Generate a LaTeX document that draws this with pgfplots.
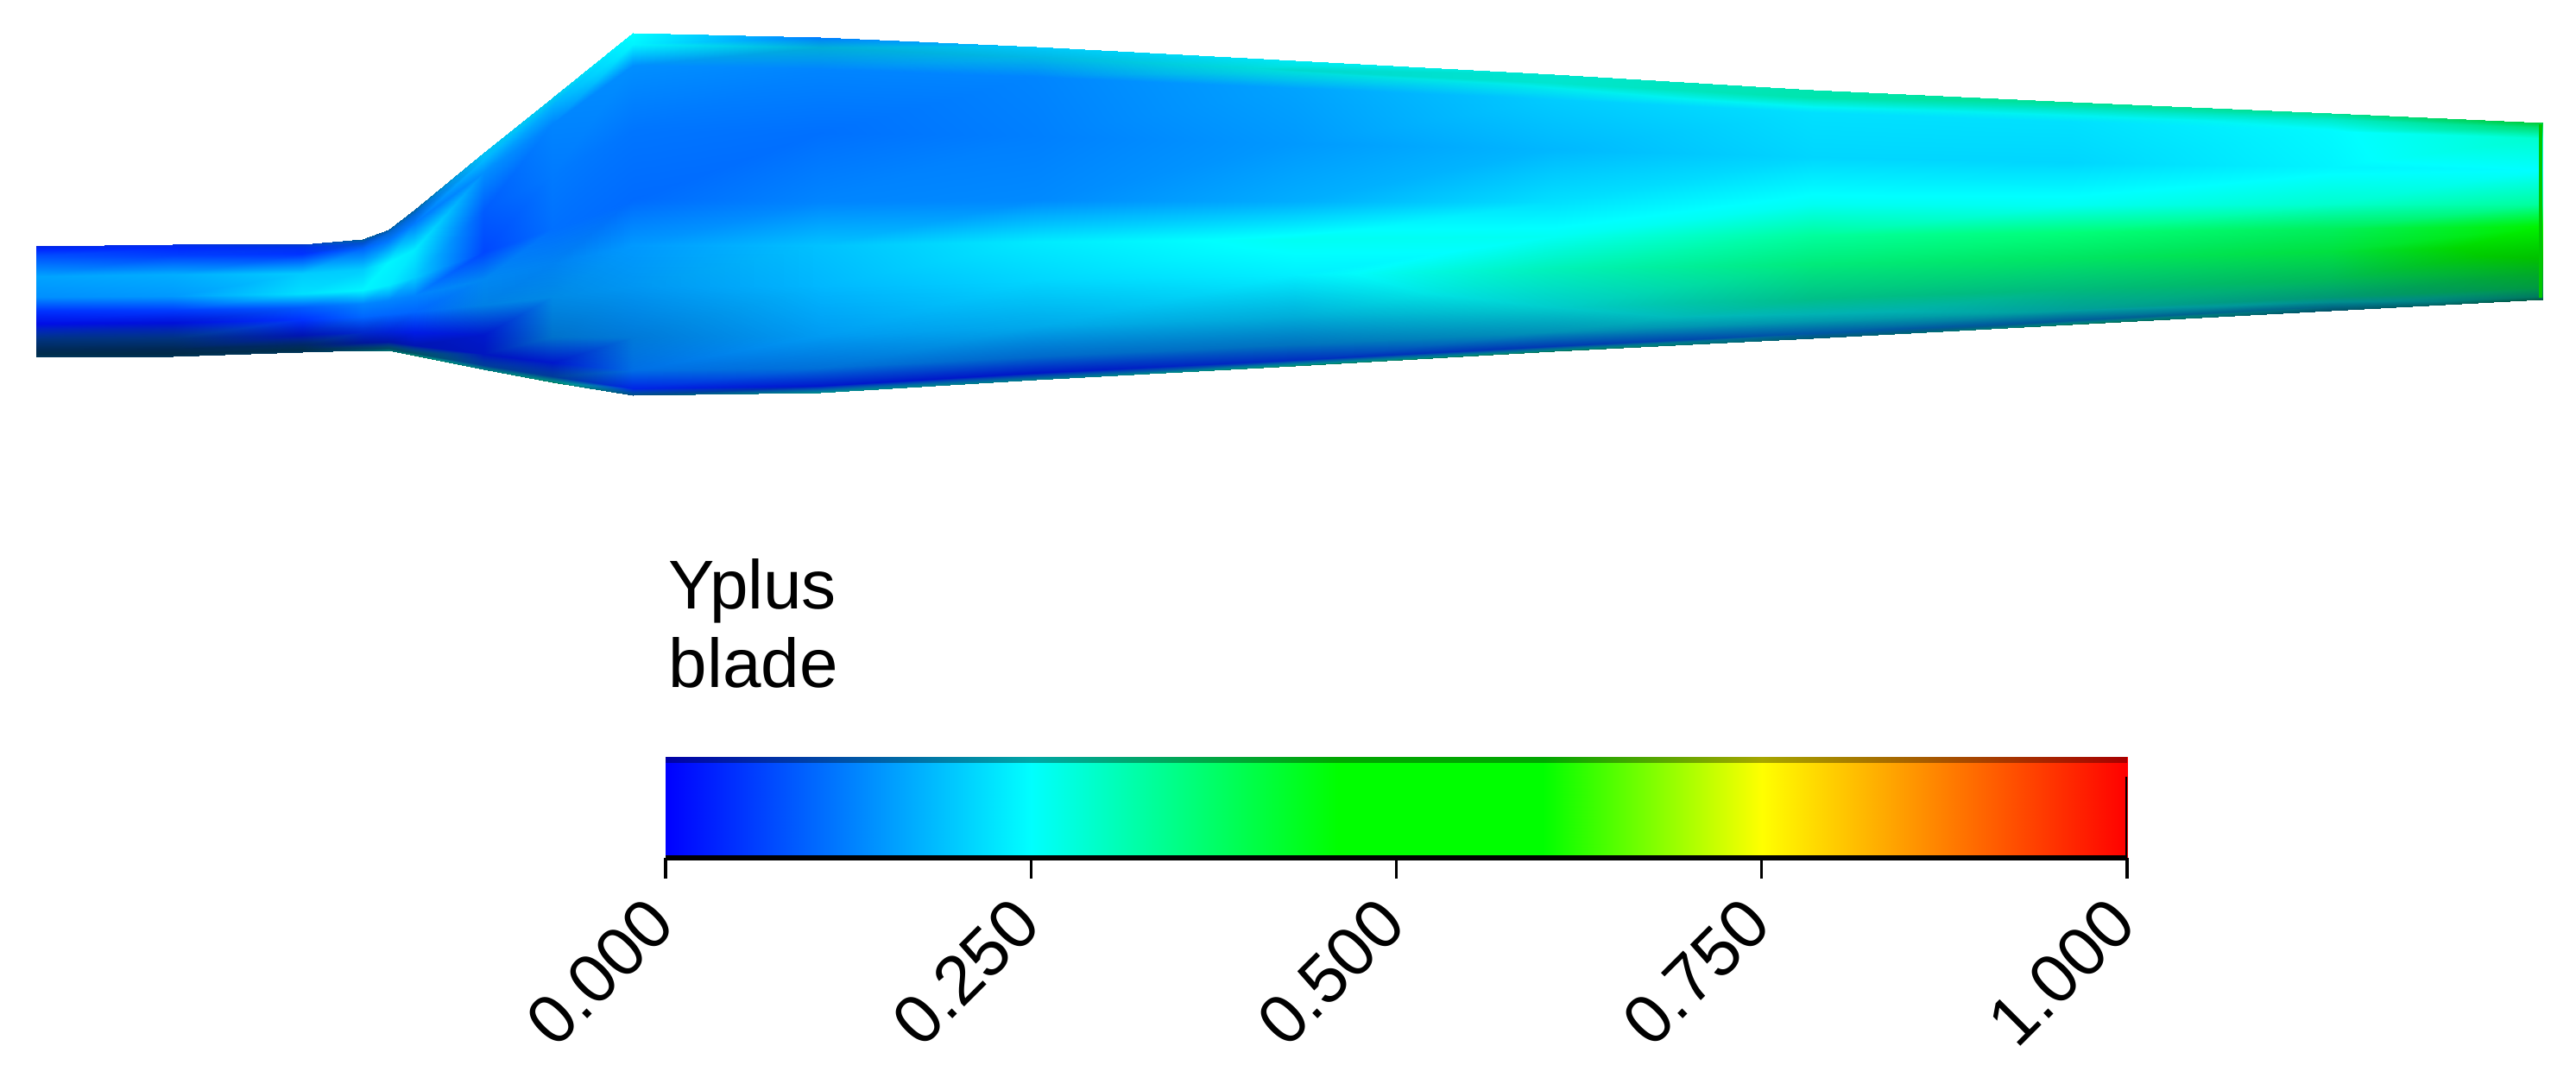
\documentclass[border=0pt]{standalone}
\usepackage{pgfplots}
\usepackage{pgfplotstable}
\usepackage{fontspec}
\setmainfont{Liberation Sans}
\pgfplotsset{compat=1.18}
\pgfplotstableread{
x y v L
42 285 .04 .9
42 289 .04 1
42 297 .08 1
42 320 .16 1
42 344 .14 1
42 360 .05 1
42 375 .015 .9
42 393 .1 .5
42 404 .12 .35
42 410 .15 .3
42 413 .15 .35
200 283 .05 .9
200 287 .04 1
200 295 .06 1
200 318 .17 1
200 343 .15 1
200 359 .06 1
200 374 .02 .85
200 392 .1 .5
200 404 .12 .33
200 410 .15 .28
200 413 .15 .35
350 283 .07 .8
350 287 .05 .95
350 294 .05 1
350 317 .2 1
350 340 .22 1
350 356 .09 1
350 370 .05 1
350 388 .03 .7
350 399 .1 .4
350 405 .15 .3
350 408 .15 .35
420 277 .15 .6
420 281 .1 .8
420 288 .1 1
420 312 .2 1
420 336 .24 1
420 352 .13 1
420 367 .1 1
420 385 .05 .8
420 397 .04 .6
420 403 .15 .4
420 406 .2 .4
450 266 .14 .65
450 270 .12 .85
450 279 .12 1
450 304 .24 1
450 330 .23 1
450 348 .13 1
450 364 .1 1
450 384 .04 .85
450 396 .035 .65
450 403 .18 .4
450 406 .25 .45
480 243 .15 .65
480 248 .12 .85
480 258 .12 1
480 289 .23 1
480 321 .2 1
480 342 .13 1
480 361 .1 1
480 385 .03 .9
480 400 .03 .7
480 409 .2 .4
480 412 .3 .5
560 177 .2 .95
560 185 .18 1
560 200 .14 1
560 245 .09 1
560 292 .07 1
560 324 .14 .95
560 353 .14 .9
560 388 .03 .8
560 410 .03 .75
560 423 .1 .6
560 428 .25 .5
640 113 .21 .95
640 123 .17 1
640 143 .13 1
640 202 .12 1
640 265 .11 1
640 306 .135 .95
640 344 .15 .9
640 390 .14 .8
640 420 .03 .8
640 436 .1 .6
640 443 .3 .5
733 38 .25 1
733 51 .24 1
733 76 .14 1
733 151 .115 1
733 231 .105 1
733 284 .15 1
733 332 .155 .95
733 391 .14 .85
733 429 .12 .9
733 450 .04 .9
733 458 .15 .5
950 43 .12 1
950 55 .2 .85
950 80 .13 1
950 154 .11 1
950 233 .13 1
950 284 .19 1
950 331 .18 1
950 389 .16 .95
950 426 .13 .85
950 447 .03 .8
950 455 .25 .55
1200 54 .2 .98
1200 66 .2 .9
1200 89 .13 1
1200 158 .125 1
1200 232 .135 1
1200 280 .23 1
1200 324 .21 1
1200 378 .18 .92
1200 413 .13 .8
1200 432 .03 .78
1200 440 .22 .55
1500 70 .24 .95
1500 81 .26 .85
1500 102 .16 1
1500 166 .15 1
1500 233 .17 1
1500 277 .26 1
1500 318 .235 1
1500 367 .2 .85
1500 399 .15 .75
1500 417 .06 .75
1500 424 .3 .5
1800 86 .27 .9
1800 96 .27 .9
1800 115 .2 1
1800 173 .18 1
1800 234 .22 1
1800 274 .26 1
1800 311 .3 .95
1800 356 .25 .8
1800 384 .2 .72
1800 401 .08 .7
1800 407 .3 .45
2100 104 .3 .9
2100 113 .3 .9
2100 130 .22 1
2100 182 .21 1
2100 236 .26 1
2100 272 .33 1
2100 306 .35 .92
2100 346 .31 .75
2100 372 .22 .68
2100 386 .13 .65
2100 392 .2 .45
2400 118 .32 .88
2400 126 .28 .9
2400 141 .22 1
2400 188 .21 1
2400 237 .26 1
2400 269 .36 1
2400 299 .37 .9
2400 335 .32 .73
2400 358 .26 .63
2400 371 .15 .6
2400 376 .3 .45
2700 131 .32 .88
2700 138 .28 .92
2700 152 .245 1
2700 193 .24 1
2700 236 .29 1
2700 265 .38 .94
2700 291 .4 .88
2700 323 .36 .73
2700 344 .3 .6
2700 355 .2 .52
2700 360 .2 .4
2945 142 .4 .8
2945 148 .35 .88
2945 160 .29 1
2945 197 .25 1
2945 236 .33 1
2945 262 .46 .95
2945 285 .5 .82
2945 314 .42 .68
2945 333 .37 .6
2945 343 .3 .48
2945 347 .3 .35
}\blade
\pgfplotstableread{
x y v
0 0 0
.05 0 .05
.1 0 .1
.15 0 .15
.2 0 .2
.25 0 .25
.3 0 .3
.35 0 .35
.4 0 .4
.46 0 .46
.5 0 .5
.6 0 .6
.65 0 .65
.7 0 .7
.75 0 .75
.8 0 .8
.85 0 .85
.9 0 .9
.95 0 .95
1 0 1
0 1 0
.05 1 .05
.1 1 .1
.15 1 .15
.2 1 .2
.25 1 .25
.3 1 .3
.35 1 .35
.4 1 .4
.46 1 .46
.5 1 .5
.6 1 .6
.65 1 .65
.7 1 .7
.75 1 .75
.8 1 .8
.85 1 .85
.9 1 .9
.95 1 .95
1 1 1
}\cbar
\pgfplotsset{
  colormap={cfd}{rgb(0pt)=(0,0,1); rgb(25pt)=(0,1,1); rgb(46pt)=(0,1,0); rgb(60pt)=(0,1,0); rgb(75pt)=(1,1,0); rgb(100pt)=(1,0,0)},
  colormap={light}{gray(0pt)=(0); gray(100pt)=(1)},
}
\definecolor{rimgreen}{rgb}{0,0.78,0}
\begin{document}
\begin{tikzpicture}
\path[use as bounding box] (0,0) rectangle (746pt,313.75pt);
\begin{axis}[at={(0pt,0pt)},anchor=south west,scale only axis,width=746pt,height=313.75pt,
  xmin=0,xmax=2984,ymin=0,ymax=1255,y dir=reverse,hide axis,
  point meta min=0,point meta max=1,colormap name=cfd]
\addplot[surf,shader=interp,mesh/rows=17,mesh/cols=11,colormap name=cfd,point meta=explicit] table[x=x,y=y,meta=v]{\blade};
\addplot[surf,shader=interp,mesh/rows=17,mesh/cols=11,colormap name=light,point meta=explicit,/tikz/blend mode=multiply] table[x=x,y=y,meta=L]{\blade};
\addplot[rimgreen,line width=1.1pt,forget plot] coordinates {(2943,144)(2943,345)};
\end{axis}
\node[anchor=base west,inner sep=0pt,font=\fontsize{20}{24}\selectfont] at (193.5pt,137.5pt) {Yplus};
\node[anchor=base west,inner sep=0pt,font=\fontsize{20}{24}\selectfont] at (193.5pt,114.75pt) {blade};
\begin{axis}[at={(192.75pt,65.25pt)},anchor=south west,scale only axis,width=423.25pt,height=29.25pt,
  xmin=0,xmax=1,ymin=0,ymax=1,axis on top,
  axis x line*=bottom,axis y line=none,
  axis line style={line width=1.4pt,-},
  xtick={0,0.25,0.5,0.75,1},
  tick align=outside,major tick length=6pt,
  tick style={black,line width=0.8pt},
  xticklabel style={rotate=45,anchor=north east,font=\fontsize{20}{24}\selectfont,
    /pgf/number format/fixed,/pgf/number format/fixed zerofill,/pgf/number format/precision=3,
    /pgf/number format/assume math mode=true,inner sep=1pt,yshift=2.5pt,xshift=-6.4pt},
  point meta min=0,point meta max=1,colormap name=cfd]
\addplot[surf,shader=interp,mesh/rows=2,mesh/cols=20,point meta=explicit] table[x=x,y=y,meta=v]{\cbar};
\addplot[black,opacity=.35,line width=1.8pt,forget plot] coordinates {(0,0.97)(1,0.97)};
\addplot[black,line width=1pt,forget plot] coordinates {(1,0)(1,0.8)};
\end{axis}
\end{tikzpicture}
\end{document}
